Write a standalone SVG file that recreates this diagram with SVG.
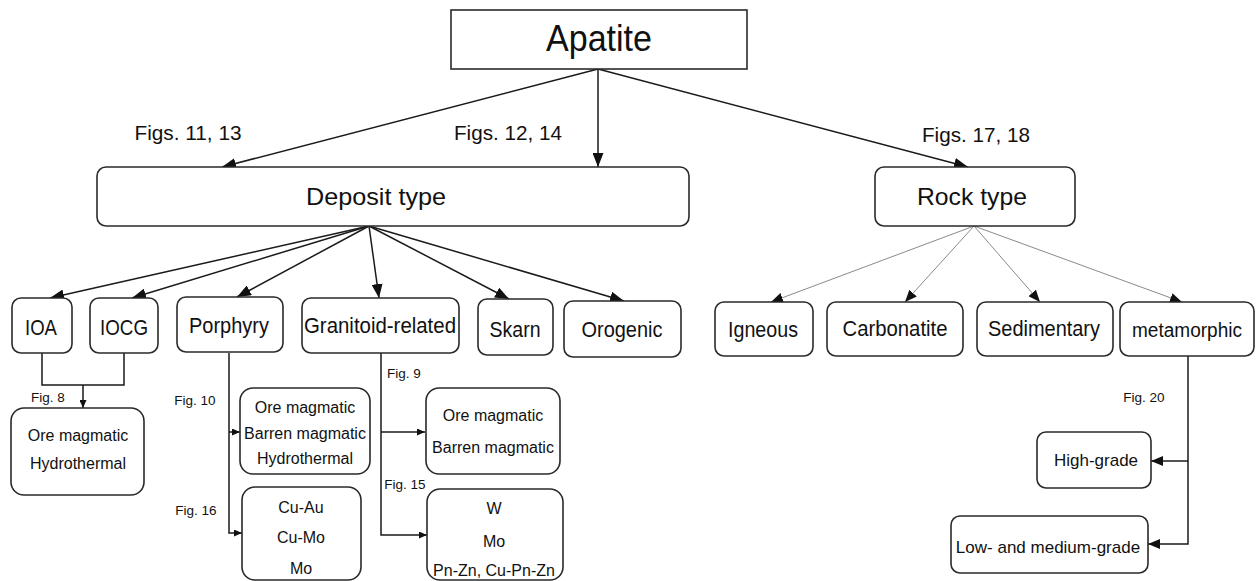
<svg xmlns="http://www.w3.org/2000/svg" width="1256" height="581" viewBox="0 0 1256 581">
<style>
.box{fill:#fff;stroke:#2a2a2a;stroke-width:1.6}
.t{font-family:"Liberation Sans",Arial,sans-serif;fill:#111;text-anchor:middle}
.big{font-size:37px}
.mid{font-size:24px}
.fig{font-size:21px}
.row{font-size:22px}
.sm{font-size:16px}
.tiny{font-size:13.5px}
.ln{fill:none;stroke:#1a1a1a;stroke-width:1.5}
.thin{fill:none;stroke:#8a8a8a;stroke-width:1}
</style>
<defs>
<marker id="ah" markerUnits="userSpaceOnUse" markerWidth="14" markerHeight="11" refX="14" refY="5.5" orient="auto"><path d="M0,0 L14,5.5 L0,11 z" fill="#111"/></marker>
<marker id="am" markerUnits="userSpaceOnUse" markerWidth="12" markerHeight="10" refX="12" refY="5" orient="auto"><path d="M0,0 L12,5 L0,10 z" fill="#111"/></marker>
<marker id="as" markerUnits="userSpaceOnUse" markerWidth="8" markerHeight="7" refX="8" refY="3.5" orient="auto"><path d="M0,0 L8,3.5 L0,7 z" fill="#111"/></marker>
</defs>
<rect width="1256" height="581" fill="#fff"/>

<g id="connectors">
  <line class="ln" x1="598" y1="69" x2="222" y2="167" marker-end="url(#ah)"/>
  <line class="ln" x1="598" y1="69" x2="598" y2="167" marker-end="url(#ah)"/>
  <line class="ln" x1="598" y1="69" x2="968" y2="167" marker-end="url(#ah)"/>
  <line class="ln" x1="369" y1="226" x2="50" y2="298" marker-end="url(#ah)"/>
  <line class="ln" x1="369" y1="226" x2="132" y2="298" marker-end="url(#ah)"/>
  <line class="ln" x1="369" y1="226" x2="237" y2="297" marker-end="url(#ah)"/>
  <line class="ln" x1="369" y1="226" x2="379" y2="298" marker-end="url(#ah)"/>
  <line class="ln" x1="369" y1="226" x2="509" y2="299" marker-end="url(#ah)"/>
  <line class="ln" x1="369" y1="226" x2="624" y2="301" marker-end="url(#ah)"/>
  <line class="thin" x1="974" y1="226" x2="771" y2="302" marker-end="url(#am)"/>
  <line class="thin" x1="974" y1="226" x2="905" y2="302" marker-end="url(#am)"/>
  <line class="thin" x1="974" y1="226" x2="1040" y2="302" marker-end="url(#am)"/>
  <line class="thin" x1="974" y1="226" x2="1182" y2="302" marker-end="url(#am)"/>
  <polyline class="ln" points="42,353 42,385 124,385 124,353"/>
  <line class="ln" x1="83" y1="385" x2="83" y2="408" marker-end="url(#as)"/>
  <polyline class="ln" points="229,353 229,533 242,533" marker-end="url(#as)"/>
  <line class="ln" x1="229" y1="432" x2="240" y2="432" marker-end="url(#as)"/>
  <polyline class="ln" points="381,353 381,535 427,535" marker-end="url(#as)"/>
  <line class="ln" x1="381" y1="432" x2="425" y2="432" marker-end="url(#as)"/>
  <polyline class="ln" points="1188,356 1188,544 1148,544" marker-end="url(#am)"/>
  <line class="ln" x1="1188" y1="461" x2="1151" y2="461" marker-end="url(#am)"/>
  <text class="t fig" x="188" y="140" textLength="107" lengthAdjust="spacingAndGlyphs">Figs. 11, 13</text>
  <text class="t fig" x="508" y="140" textLength="108" lengthAdjust="spacingAndGlyphs">Figs. 12, 14</text>
  <text class="t fig" x="976" y="142" textLength="108" lengthAdjust="spacingAndGlyphs">Figs. 17, 18</text>
  <text class="t tiny" x="48" y="402">Fig. 8</text>
  <text class="t tiny" x="195" y="405">Fig. 10</text>
  <text class="t tiny" x="196" y="515">Fig. 16</text>
  <text class="t tiny" x="404" y="378">Fig. 9</text>
  <text class="t tiny" x="405" y="489">Fig. 15</text>
  <text class="t tiny" x="1144" y="402">Fig. 20</text>
</g>

<g id="apatite">
  <rect class="box" x="451" y="10" width="296" height="59"/>
  <text class="t big" x="599" y="51" textLength="106" lengthAdjust="spacingAndGlyphs">Apatite</text>
</g>
<g id="deposit-type">
  <rect class="box" x="97" y="167" width="592" height="59" rx="9"/>
  <text class="t mid" x="376" y="205" textLength="140" lengthAdjust="spacingAndGlyphs">Deposit type</text>
</g>
<g id="rock-type">
  <rect class="box" x="875" y="167" width="200" height="59" rx="9"/>
  <text class="t mid" x="972" y="205" textLength="110" lengthAdjust="spacingAndGlyphs">Rock type</text>
</g>

<g id="ioa">
  <rect class="box" x="12" y="298" width="60" height="55" rx="9"/>
  <text class="t row" x="41" y="335" textLength="32" lengthAdjust="spacingAndGlyphs">IOA</text>
</g>
<g id="iocg">
  <rect class="box" x="90" y="298" width="68" height="55" rx="9"/>
  <text class="t row" x="124" y="335" textLength="48" lengthAdjust="spacingAndGlyphs">IOCG</text>
</g>
<g id="porphyry">
  <rect class="box" x="177" y="297" width="106" height="55" rx="9"/>
  <text class="t row" x="229" y="333" textLength="80" lengthAdjust="spacingAndGlyphs">Porphyry</text>
</g>
<g id="granitoid">
  <rect class="box" x="302" y="298" width="157" height="55" rx="9"/>
  <text class="t row" x="380" y="333" textLength="152" lengthAdjust="spacingAndGlyphs">Granitoid-related</text>
</g>
<g id="skarn">
  <rect class="box" x="478" y="299" width="75" height="56" rx="9"/>
  <text class="t row" x="515" y="337" textLength="51" lengthAdjust="spacingAndGlyphs">Skarn</text>
</g>
<g id="orogenic">
  <rect class="box" x="564" y="301" width="117" height="56" rx="9"/>
  <text class="t row" x="622" y="337" textLength="81" lengthAdjust="spacingAndGlyphs">Orogenic</text>
</g>

<g id="igneous">
  <rect class="box" x="715" y="302" width="98" height="54" rx="9"/>
  <text class="t row" x="763" y="337" textLength="70" lengthAdjust="spacingAndGlyphs">Igneous</text>
</g>
<g id="carbonatite">
  <rect class="box" x="827" y="302" width="136" height="54" rx="9"/>
  <text class="t row" x="895" y="336" textLength="105" lengthAdjust="spacingAndGlyphs">Carbonatite</text>
</g>
<g id="sedimentary">
  <rect class="box" x="977" y="302" width="136" height="54" rx="9"/>
  <text class="t row" x="1044" y="336" textLength="112" lengthAdjust="spacingAndGlyphs">Sedimentary</text>
</g>
<g id="metamorphic">
  <rect class="box" x="1120" y="302" width="134" height="54" rx="9"/>
  <text class="t" style="font-size:20px" x="1187" y="337" textLength="110" lengthAdjust="spacingAndGlyphs">metamorphic</text>
</g>

<g id="ioa-iocg-sub">
  <rect class="box" x="11" y="408" width="133" height="87" rx="13"/>
  <text class="t sm" x="78" y="441">Ore magmatic</text>
  <text class="t sm" x="78" y="469">Hydrothermal</text>
</g>
<g id="porphyry-sub1">
  <rect class="box" x="240" y="388" width="130" height="86" rx="13"/>
  <text class="t sm" x="305" y="413">Ore magmatic</text>
  <text class="t sm" x="305" y="439">Barren magmatic</text>
  <text class="t sm" x="305" y="464">Hydrothermal</text>
</g>
<g id="porphyry-sub2">
  <rect class="box" x="242" y="487" width="119" height="93" rx="13"/>
  <text class="t sm" x="301" y="513">Cu-Au</text>
  <text class="t sm" x="301" y="543">Cu-Mo</text>
  <text class="t sm" x="301" y="574">Mo</text>
</g>
<g id="granitoid-sub1">
  <rect class="box" x="426" y="388" width="134" height="86" rx="13"/>
  <text class="t sm" x="493" y="421">Ore magmatic</text>
  <text class="t sm" x="493" y="453">Barren magmatic</text>
</g>
<g id="granitoid-sub2">
  <rect class="box" x="427" y="489" width="136" height="91" rx="13"/>
  <text class="t sm" x="494" y="514">W</text>
  <text class="t sm" x="494" y="547">Mo</text>
  <text class="t sm" x="494" y="576">Pn-Zn, Cu-Pn-Zn</text>
</g>
<g id="high-grade">
  <rect class="box" x="1037" y="432" width="114" height="56" rx="9"/>
  <text class="t sm" x="1096" y="466" style="font-size:17px">High-grade</text>
</g>
<g id="low-medium-grade">
  <rect class="box" x="951" y="516" width="197" height="57" rx="9"/>
  <text class="t sm" x="1048" y="553" style="font-size:17px">Low- and medium-grade</text>
</g>
</svg>
